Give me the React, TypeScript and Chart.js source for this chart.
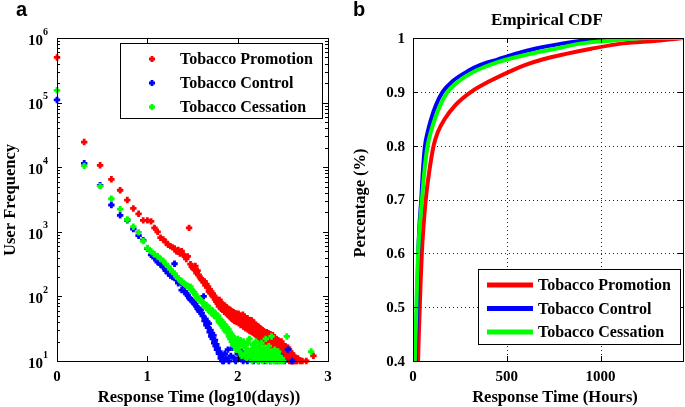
import React, { useEffect, useRef } from "react";
import { Chart, registerables } from "chart.js";

Chart.register(...registerables);

const SERIF = '"Liberation Serif", "DejaVu Serif", serif';
const SANS = '"Liberation Sans", Arial, sans-serif';

const seriesNames = ["Tobacco Promotion", "Tobacco Control", "Tobacco Cessation"];
const seriesColors = ["#ff0000", "#0000ff", "#00ff00"];

// ---------- Panel a: user frequency vs response time (days) ----------
const scatterXTicks = [0, 1, 2, 3];
const scatterYExponents = [1, 2, 3, 4, 5, 6];

const promotionDays = [
  1, 2, 3, 4, 5, 6, 7, 8, 9, 10, 11, 12, 13, 14, 15, 16, 17, 18, 19, 20,
  21, 22, 23, 24, 25, 26, 27, 28, 29, 30, 31, 32, 33, 34, 35, 36, 37, 38, 39, 40,
  41, 42, 43, 44, 45, 46, 47, 48, 49, 50, 51, 52, 53, 54, 55, 56, 57, 58, 59, 60,
  61, 62, 63, 64, 65, 66, 67, 68, 69, 70, 71, 72, 73, 74, 75, 76, 77, 78, 79, 80,
  81, 82, 83, 84, 85, 86, 87, 88, 89, 90, 91, 92, 93, 94, 95, 96, 97, 98, 99, 100,
  102, 104, 106, 108, 110, 112, 114, 116, 118, 120, 122, 124, 126, 128, 130, 132, 134, 136, 138, 140,
  142, 144, 146, 148, 150, 152, 154, 156, 158, 160, 162, 164, 166, 168, 170, 172, 174, 176, 178, 180,
  182, 184, 186, 188, 190, 192, 194, 196, 198, 200,
  203, 206, 209, 212, 215, 218, 221, 224, 227, 230, 233, 236, 239, 242, 245, 248, 251, 254, 257, 260,
  263, 266, 269, 272, 275, 278, 281, 284, 287, 290, 293, 296, 299, 302, 305, 308, 311, 314, 317, 320,
  323, 326, 329, 332, 335, 338, 341, 344, 347, 350, 353, 356, 359, 362, 365, 368, 371, 374, 377, 380,
  383, 386, 389, 392, 395, 400, 405, 410, 415, 420, 425, 430, 440, 450, 465, 490, 520, 575, 690,
];
const promotionUsers = [
  500000, 24500, 10700, 6500, 4400, 3100, 2300, 1900, 1500, 1500, 1450, 1150, 1000, 810, 760, 690, 630, 600, 575, 550,
  500, 525, 460, 500, 440, 420, 380, 415, 1150, 315, 290, 275, 265, 295, 230, 250, 215, 200, 190, 182,
  175, 165, 170, 148, 155, 138, 142, 120, 128, 112, 118, 105, 110, 98, 102, 90, 95, 83, 88, 78,
  82, 70, 88, 72, 80, 64, 77, 62, 74, 66, 58, 72, 60, 68, 55, 66, 59, 52, 64, 57,
  50, 62, 48, 60, 54, 45, 58, 52, 44, 57, 50, 42, 55, 48, 41, 54, 47, 40, 52, 46,
  54, 40, 49, 36, 47, 40, 52, 34, 45, 39, 32, 44, 37, 46, 31, 41, 36, 29, 40, 35,
  43, 28, 38, 33, 27, 39, 32, 26, 36, 31, 25, 35, 30, 24, 34, 29, 23, 32, 27, 22,
  31, 26, 21, 30, 25, 20, 29, 24, 20, 28,
  25, 21, 28, 19, 24, 27, 20, 23, 18, 26, 22, 17, 24, 20, 25, 16, 21, 19, 23, 17,
  20, 15, 22, 19, 16, 21, 14, 18, 20, 15, 19, 17, 14, 18, 20, 13, 16, 18, 15, 12,
  17, 14, 16, 12, 15, 17, 11, 14, 16, 13, 15, 11, 14, 16, 12, 13, 15, 10, 13, 14,
  11, 12, 13, 10, 12, 13, 10, 12, 10, 12, 11, 10, 11, 10, 11, 10, 10, 10, 12,
];

const controlDays = [
  1, 2, 3, 4, 5, 6, 7, 8, 9, 10, 11, 12, 13, 14, 15, 16, 17, 18, 19, 20,
  21, 22, 23, 24, 25, 26, 27, 28, 29, 30, 31, 32, 33, 34, 35, 36, 37, 38, 39, 40,
  41, 42, 43, 44, 45, 46, 47, 48, 49, 50, 51, 52, 53, 54, 55, 56, 57, 58, 59, 60,
  62, 63, 65, 66, 68, 70, 72, 75, 78, 80, 84, 88, 92, 95, 100, 105, 110, 115, 120, 128,
  135, 142, 150, 160, 170, 180, 190, 200, 215, 230, 250, 270, 300, 330, 360, 400,
];
const controlUsers = [
  110000, 11500, 5250, 2600, 1800, 1500, 1100, 870, 740, 550, 440, 390, 340, 310, 285, 250, 230, 210, 200, 320,
  180, 160, 170, 125, 150, 120, 110, 105, 95, 90, 87, 82, 78, 75, 70, 65, 62, 58, 62, 55,
  50, 100, 42, 45, 36, 40, 33, 38, 28, 30, 24, 27, 22, 25, 19, 21, 17, 18, 15, 16,
  13, 14, 11, 12, 10, 10, 13, 11, 15, 10, 12, 16, 11, 10, 13, 11, 14, 10, 12, 10,
  13, 11, 10, 12, 10, 11, 14, 10, 12, 10, 11, 10, 12, 10, 15, 10,
];

const cessationDays = [
  1, 2, 3, 4, 5, 6, 7, 8, 9, 10, 11, 12, 13, 14, 15, 16, 17, 18, 19, 20,
  21, 22, 23, 24, 25, 26, 27, 28, 29, 30, 31, 32, 33, 34, 35, 36, 37, 38, 39, 40,
  41, 43, 45, 47, 49, 51, 53, 55, 57, 59, 61, 62, 63, 65, 66, 67, 68, 70, 71, 72,
  73, 75, 76, 78, 79, 80, 82, 83, 85, 86, 88, 89, 90, 92, 93, 95, 96, 98, 99, 100,
  102, 105, 108, 111, 114, 117, 120, 123, 126, 129, 132, 135, 138, 141, 144, 147, 150, 153, 156, 159,
  162, 165, 168, 171, 174, 177, 180, 183, 186, 189, 192, 195, 198, 201, 205, 209, 213, 217, 221, 225,
  229, 233, 237, 241, 245, 249, 253, 257, 261, 265, 270, 275, 280, 285, 290, 300, 310, 320, 350, 650,
];
const cessationUsers = [
  155000, 10500, 5100, 3250, 2240, 1550, 1200, 980, 720, 560, 500, 450, 420, 380, 355, 316, 290, 263, 240, 224,
  204, 190, 178, 170, 162, 155, 148, 145, 138, 141, 126, 120, 115, 107, 100, 95, 91, 89, 87, 83,
  80, 70, 74, 62, 66, 55, 60, 50, 54, 46, 50, 40, 44, 38, 42, 35, 40, 33, 37, 30,
  35, 29, 33, 27, 31, 24, 28, 22, 26, 20, 24, 18, 23, 17, 21, 19, 15, 20, 16, 22,
  18, 14, 21, 12, 17, 20, 13, 16, 11, 19, 14, 22, 12, 15, 10, 18, 13, 16, 11, 20,
  12, 14, 10, 17, 13, 11, 15, 19, 12, 10, 14, 16, 11, 13, 22, 10, 15, 12, 17, 11,
  13, 10, 24, 14, 11, 12, 10, 15, 13, 10, 12, 11, 14, 10, 12, 10, 11, 10, 24, 14,
];

// ---------- Panel b: empirical CDF ----------
const cdfXTicks = [0, 500, 1000];
const cdfYTicks = [0.4, 0.5, 0.6, 0.7, 0.8, 0.9, 1];
const cdfLevels = [0.3, 0.4, 0.45, 0.5, 0.55, 0.6, 0.65, 0.7, 0.75, 0.8, 0.825, 0.85, 0.875, 0.9, 0.92, 0.94, 0.95, 0.96, 0.97, 0.98, 0.99, 0.995, 1.0];
const promotionHours = [20, 27, 31, 36, 41, 47, 56, 68, 86, 110, 132, 170, 225, 310, 410, 530, 600, 690, 810, 950, 1120, 1300, 1440];
const controlHours = [8, 15, 18, 22, 25, 28, 34, 44, 52, 64, 78, 97, 122, 158, 212, 300, 360, 450, 540, 650, 800, 900, 1050];
const cessationHours = [6, 10, 14, 18, 22, 27, 36, 48, 60, 78, 95, 117, 145, 185, 245, 340, 410, 500, 620, 760, 900, 1050, 1250];
const cdfXMax = 1440;

const toScatter = (days: number[], users: number[]) =>
  days.map((d, i) => ({ x: Math.log10(d), y: users[i] }));

const toCdf = (hours: number[]) => {
  const pts = hours.map((h, i) => ({ x: h, y: cdfLevels[i] }));
  const last = pts[pts.length - 1];
  if (last.x < cdfXMax) pts.push({ x: cdfXMax, y: last.y });
  return pts;
};

function strokeFrame(ctx: CanvasRenderingContext2D, a: any) {
  ctx.save();
  ctx.strokeStyle = "#000";
  ctx.lineWidth = 1;
  ctx.setLineDash([]);
  ctx.strokeRect(Math.round(a.left) + 0.5, Math.round(a.top) + 0.5, Math.round(a.right - a.left), Math.round(a.bottom - a.top));
  ctx.restore();
}

function hTick(ctx: CanvasRenderingContext2D, a: any, y: number, len: number) {
  const yy = Math.round(y) + 0.5;
  ctx.beginPath();
  ctx.moveTo(a.left, yy); ctx.lineTo(a.left + len, yy);
  ctx.moveTo(a.right, yy); ctx.lineTo(a.right - len, yy);
  ctx.stroke();
}
function vTick(ctx: CanvasRenderingContext2D, a: any, x: number, len: number) {
  const xx = Math.round(x) + 0.5;
  ctx.beginPath();
  ctx.moveTo(xx, a.bottom); ctx.lineTo(xx, a.bottom - len);
  ctx.moveTo(xx, a.top); ctx.lineTo(xx, a.top + len);
  ctx.stroke();
}

function drawRotated(ctx: CanvasRenderingContext2D, text: string, x: number, y: number, font: string) {
  ctx.save();
  ctx.translate(x, y);
  ctx.rotate(-Math.PI / 2);
  ctx.font = font;
  ctx.textAlign = "center";
  ctx.textBaseline = "middle";
  ctx.fillStyle = "#000";
  ctx.fillText(text, 0, 0);
  ctx.restore();
}

function drawCross(ctx: CanvasRenderingContext2D, x: number, y: number, color: string) {
  ctx.save();
  ctx.strokeStyle = color;
  ctx.lineWidth = 2.8;
  ctx.beginPath();
  ctx.moveTo(x - 3, y); ctx.lineTo(x + 3, y);
  ctx.moveTo(x, y - 3); ctx.lineTo(x, y + 3);
  ctx.stroke();
  ctx.restore();
}

const scatterDecor = {
  id: "scatterDecor",
  afterDatasetsDraw(chart: any) {
    const { ctx, chartArea: a, scales } = chart;
    const xs = scales.x, ys = scales.y;
    strokeFrame(ctx, a);
    ctx.save();
    ctx.strokeStyle = "#000";
    ctx.lineWidth = 1;
    scatterXTicks.forEach((v) => {
      if (v > xs.min && v < xs.max) vTick(ctx, a, xs.getPixelForValue(v), 5);
    });
    scatterYExponents.forEach((e) => {
      const v = Math.pow(10, e);
      if (e > 1 && e < 6) hTick(ctx, a, ys.getPixelForValue(v), 5);
      if (e < 6) for (let m = 2; m <= 9; m++) hTick(ctx, a, ys.getPixelForValue(m * v), 3);
    });
    ctx.fillStyle = "#000";
    ctx.font = `bold 15px ${SERIF}`;
    ctx.textAlign = "center";
    ctx.textBaseline = "middle";
    scatterXTicks.forEach((v) => ctx.fillText(String(v), xs.getPixelForValue(v), a.bottom + 16));
    scatterYExponents.forEach((e) => {
      const y = ys.getPixelForValue(Math.pow(10, e));
      const right = a.left - 9;
      ctx.font = `bold 10px ${SERIF}`;
      const ew = ctx.measureText(String(e)).width;
      ctx.textAlign = "left";
      ctx.fillText(String(e), right - ew, y - 6);
      ctx.font = `bold 15px ${SERIF}`;
      ctx.textAlign = "right";
      ctx.fillText("10", right - ew, y + 3);
    });
    ctx.textAlign = "center";
    ctx.font = `bold 16.5px ${SERIF}`;
    ctx.fillText("Response Time (log10(days))", 199, 398);
    drawRotated(ctx, "User Frequency", 11, 200, `bold 16.5px ${SERIF}`);
    ctx.font = `bold 20px ${SANS}`;
    ctx.textAlign = "left";
    ctx.textBaseline = "alphabetic";
    ctx.fillText("a", 16, 16);
    const lx = 120, ly = 43, lw = 202, lh = 75;
    ctx.fillStyle = "#fff";
    ctx.fillRect(lx, ly, lw, lh);
    ctx.strokeStyle = "#000";
    ctx.strokeRect(lx + 0.5, ly + 0.5, lw, lh);
    ctx.font = `bold 16px ${SERIF}`;
    ctx.textBaseline = "middle";
    seriesNames.forEach((n, i) => {
      const ry = 59 + i * 24;
      drawCross(ctx, 152, ry, seriesColors[i]);
      ctx.fillStyle = "#000";
      ctx.fillText(n, 180, ry + 1);
    });
    ctx.restore();
  },
};

const cdfDecor = {
  id: "cdfDecor",
  beforeDatasetsDraw(chart: any) {
    const { ctx, chartArea: a, scales } = chart;
    ctx.save();
    ctx.strokeStyle = "#222";
    ctx.lineWidth = 1;
    ctx.setLineDash([1, 3]);
    cdfXTicks.forEach((v) => {
      if (v <= scales.x.min) return;
      const x = Math.round(scales.x.getPixelForValue(v)) + 0.5;
      ctx.beginPath(); ctx.moveTo(x, a.top); ctx.lineTo(x, a.bottom); ctx.stroke();
    });
    cdfYTicks.forEach((v) => {
      if (v <= scales.y.min || v >= scales.y.max) return;
      const y = Math.round(scales.y.getPixelForValue(v)) + 0.5;
      ctx.beginPath(); ctx.moveTo(a.left, y); ctx.lineTo(a.right, y); ctx.stroke();
    });
    ctx.restore();
  },
  afterDatasetsDraw(chart: any) {
    const { ctx, chartArea: a, scales } = chart;
    const xs = scales.x, ys = scales.y;
    strokeFrame(ctx, a);
    ctx.save();
    ctx.strokeStyle = "#000";
    ctx.lineWidth = 1;
    cdfXTicks.forEach((v) => { if (v > xs.min) vTick(ctx, a, xs.getPixelForValue(v), 5); });
    cdfYTicks.forEach((v) => { if (v > ys.min && v < ys.max) hTick(ctx, a, ys.getPixelForValue(v), 5); });
    ctx.fillStyle = "#000";
    ctx.font = `bold 15px ${SERIF}`;
    ctx.textAlign = "center";
    ctx.textBaseline = "middle";
    cdfXTicks.forEach((v) => ctx.fillText(String(v), xs.getPixelForValue(v), a.bottom + 16));
    ctx.textAlign = "right";
    cdfYTicks.forEach((v) => ctx.fillText(String(v), a.left - 8, ys.getPixelForValue(v) + 1));
    ctx.textAlign = "center";
    ctx.font = `bold 16.5px ${SERIF}`;
    ctx.fillText("Response Time (Hours)", 215, 398);
    ctx.font = `bold 17px ${SERIF}`;
    ctx.fillText("Empirical CDF", 207, 21);
    drawRotated(ctx, "Percentage (%)", 21, 203, `bold 16.5px ${SERIF}`);
    ctx.font = `bold 20px ${SANS}`;
    ctx.textAlign = "left";
    ctx.textBaseline = "alphabetic";
    ctx.fillText("b", 13, 16);
    const lx = 138, ly = 269, lw = 202, lh = 75;
    ctx.fillStyle = "#fff";
    ctx.fillRect(lx, ly, lw, lh);
    ctx.strokeStyle = "#000";
    ctx.strokeRect(lx + 0.5, ly + 0.5, lw, lh);
    ctx.font = `bold 16px ${SERIF}`;
    ctx.textBaseline = "middle";
    seriesNames.forEach((n, i) => {
      const ry = 285 + i * 23.5;
      ctx.strokeStyle = seriesColors[i];
      ctx.lineWidth = 5;
      ctx.beginPath(); ctx.moveTo(147, ry); ctx.lineTo(193, ry); ctx.stroke();
      ctx.fillStyle = "#000";
      ctx.fillText(n, 198, ry + 1);
    });
    ctx.restore();
  },
};

export default function App() {
  const leftRef = useRef<HTMLCanvasElement>(null);
  const rightRef = useRef<HTMLCanvasElement>(null);

  useEffect(() => {
    const pointStyle = (i: number) => ({
      pointStyle: "cross" as const,
      pointRadius: 3.2,
      pointBorderWidth: 2.8,
      borderColor: seriesColors[i],
      backgroundColor: seriesColors[i],
      pointBorderColor: seriesColors[i],
      clip: false as any,
    });
    const left = new Chart(leftRef.current!, {
      type: "scatter",
      data: {
        datasets: [
          { label: seriesNames[0], data: toScatter(promotionDays, promotionUsers), order: 3, ...pointStyle(0) },
          { label: seriesNames[1], data: toScatter(controlDays, controlUsers), order: 2, ...pointStyle(1) },
          { label: seriesNames[2], data: toScatter(cessationDays, cessationUsers), order: 1, ...pointStyle(2) },
        ],
      },
      options: {
        responsive: false,
        animation: false,
        layout: { padding: { left: 57, right: 12, top: 38, bottom: 46 } },
        scales: {
          x: { type: "linear", min: 0, max: 3, display: false },
          y: { type: "logarithmic", min: 10, max: 1e6, display: false },
        },
        plugins: { legend: { display: false }, tooltip: { enabled: false } },
      },
      plugins: [scatterDecor],
    });

    const lineStyle = (i: number, order: number) => ({
      borderColor: seriesColors[i],
      backgroundColor: seriesColors[i],
      borderWidth: 4,
      pointRadius: 0,
      fill: false,
      cubicInterpolationMode: "monotone" as const,
      order,
    });
    const right = new Chart(rightRef.current!, {
      type: "line",
      data: {
        datasets: [
          { label: seriesNames[0], data: toCdf(promotionHours), ...lineStyle(0, 3) },
          { label: seriesNames[1], data: toCdf(controlHours), ...lineStyle(1, 2) },
          { label: seriesNames[2], data: toCdf(cessationHours), ...lineStyle(2, 1) },
        ],
      },
      options: {
        responsive: false,
        animation: false,
        layout: { padding: { left: 73, right: 2, top: 38, bottom: 46 } },
        scales: {
          x: { type: "linear", min: 0, max: cdfXMax, display: false },
          y: { type: "linear", min: 0.4, max: 1, display: false },
        },
        plugins: { legend: { display: false }, tooltip: { enabled: false } },
      },
      plugins: [cdfDecor],
    });
    return () => {
      left.destroy();
      right.destroy();
    };
  }, []);

  return (
    <div style={{ position: "absolute", left: 0, top: 0, width: 685, height: 407, background: "#fff" }}>
      <canvas ref={leftRef} width={340} height={407} style={{ position: "absolute", left: 0, top: 0 }} />
      <canvas ref={rightRef} width={345} height={407} style={{ position: "absolute", left: 340, top: 0 }} />
    </div>
  );
}
